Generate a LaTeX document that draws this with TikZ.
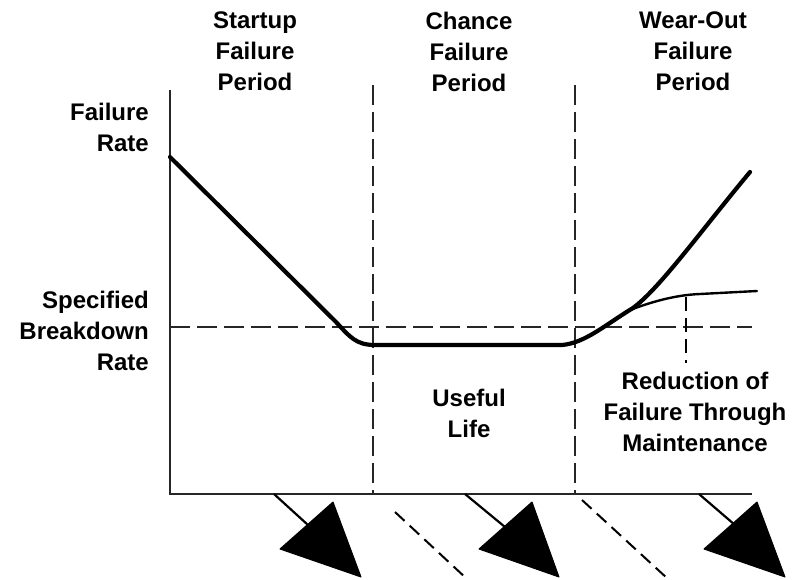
\documentclass[tikz,border=0pt]{standalone}
\usepackage{fontspec}
\setmainfont{Liberation Sans}
\begin{document}
\begin{tikzpicture}[x=1pt,y=-1pt,
  lbl/.style={font=\bfseries\fontsize{24}{31}\selectfont,inner sep=0pt,align=center},
  axisline/.style={line width=2pt,black!85},
  dashline/.style={line width=2pt,black!85,dash pattern=on 20pt off 7pt},
  curveline/.style={line width=4.2pt,line join=round,line cap=round},
  thinline/.style={line width=2.4pt,line cap=round},
  tri/.style={fill=black,draw=black,line width=1pt,line join=round}]
\useasboundingbox (0,0) rectangle (805,579);
% axes
\coordinate (ytop) at (170,90);
\coordinate (orig) at (170,494);
\coordinate (xend) at (752,494);
\draw[axisline] (ytop) -- (orig) -- (xend);
% period dividers
\coordinate (d1t) at (373,85); \coordinate (d1b) at (373,494);
\coordinate (d2t) at (575,85); \coordinate (d2b) at (575,494);
\draw[dashline] (d1t) -- (d1b);
\draw[dashline] (d2t) -- (d2b);
% specified breakdown rate line
\coordinate (hs) at (170,327); \coordinate (he) at (752,327);
\draw[dashline] (hs) -- (he);
% bathtub curve
\draw[curveline] (170,157) -- (336,322) .. controls (350,337) and (356,345) .. (375,345)
  -- (562,345) .. controls (585,343) and (605,325) .. (633,308)
  .. controls (660,288) and (700,232) .. (750,172);
% maintenance branch
\draw[thinline] (625,312) .. controls (650,302) and (675,295) .. (700,294) -- (757,291);
\coordinate (mt) at (686,297); \coordinate (mb) at (686,363);
\draw[line width=2pt,dash pattern=on 14pt off 7pt] (mt) -- (mb);
% bottom arrows
\coordinate (a1s) at (274,494); \coordinate (a1e) at (308,525);
\draw[line width=2.2pt] (a1s) -- (a1e);
\filldraw[tri] (333,502) -- (280,549) -- (361,577) -- cycle;
\coordinate (a2s) at (465,494); \coordinate (a2e) at (505,527);
\draw[line width=2.2pt] (a2s) -- (a2e);
\filldraw[tri] (532,502) -- (479,549) -- (559,577) -- cycle;
\coordinate (a3s) at (699,494); \coordinate (a3e) at (735,525);
\draw[line width=2.2pt] (a3s) -- (a3e);
\filldraw[tri] (757,502) -- (704,549) -- (785,577) -- cycle;
\coordinate (b1s) at (395,512); \coordinate (b1e) at (467,579);
\draw[line width=2pt,dash pattern=on 13pt off 7pt] (b1s) -- (b1e);
\coordinate (b2s) at (582,500); \coordinate (b2e) at (668,579);
\draw[line width=2pt,dash pattern=on 13pt off 7pt] (b2s) -- (b2e);
% labels
\node[lbl,anchor=north] (startup) at (255,12) {Startup\\Failure\\Period};
\node[lbl,anchor=north] (chance) at (469,12) {Chance\\Failure\\Period};
\node[lbl,anchor=north] (wear) at (693,12) {Wear-Out\\Failure\\Period};
\node[lbl,anchor=north east,align=right] (frate) at (149,103) {Failure\\Rate};
\node[lbl,anchor=north east,align=right] (sbr) at (149,291) {Specified\\Breakdown\\Rate};
\node[lbl,anchor=north] (useful) at (469,389) {Useful\\Life};
\node[lbl,anchor=north] (reduct) at (695,372) {Reduction of\\Failure Through\\Maintenance};
\end{tikzpicture}
\end{document}
